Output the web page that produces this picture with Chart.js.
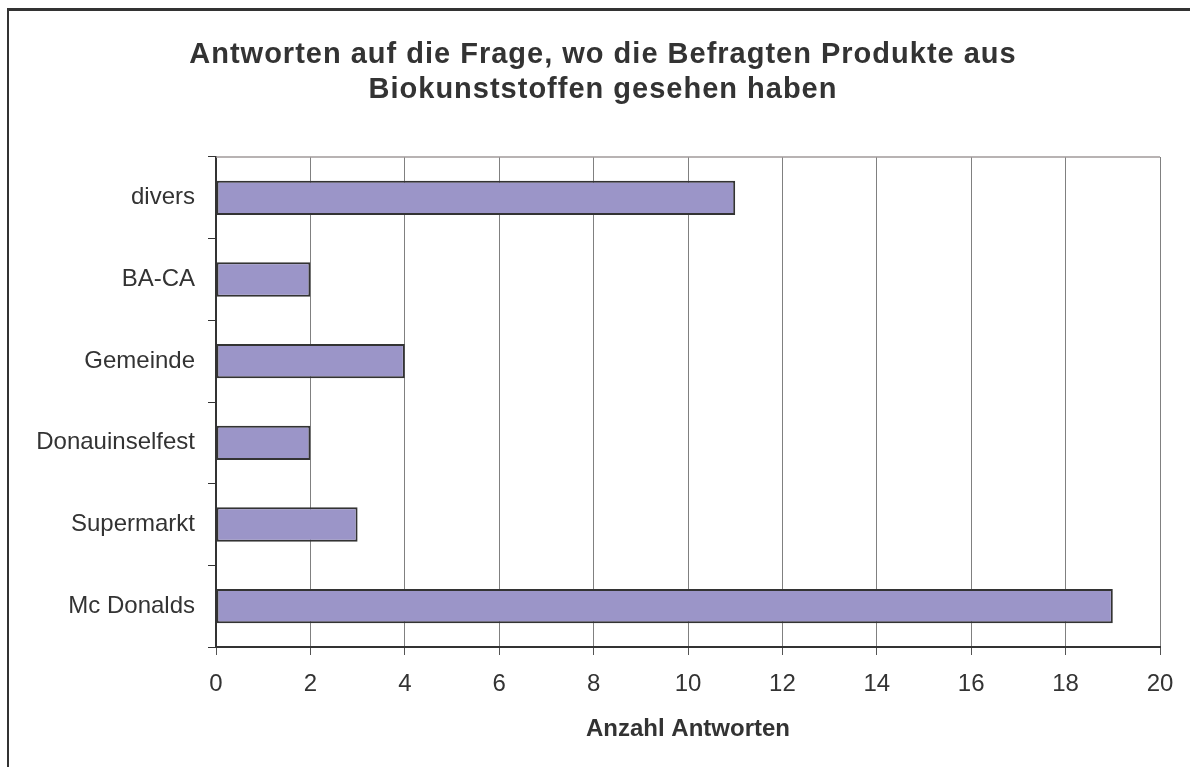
<!DOCTYPE html>
<html>
<head>
<meta charset="utf-8">
<script src="https://cdn.jsdelivr.net/npm/chart.js@4/dist/chart.umd.min.js"></script>
<style>
  html, body { margin: 0; padding: 0; background: #ffffff; }
  #wrap { position: relative; width: 1190px; height: 767px; overflow: hidden; }
  #frame { position: absolute; left: 7px; top: 8px; width: 1300px; height: 900px;
           border-left: 2px solid #333333; border-top: 3px solid #333333; pointer-events: none; }
  #title { position: absolute; left: 3px; top: 35.5px; width: 1200px; text-align: center;
           font-family: 'Liberation Sans', Arial, sans-serif; font-weight: bold; font-size: 29px;
           line-height: 35px; letter-spacing: 1px; color: #333333; margin: 0; }
  canvas { position: absolute; left: 0; top: 0; }
</style>
</head>
<body>
<div id="wrap">
  <canvas id="c" width="1190" height="767"></canvas>
  <div id="title"></div>
  <div id="frame"></div>
</div>
<script>
const categories = ['divers', 'BA-CA', 'Gemeinde', 'Donauinselfest', 'Supermarkt', 'Mc Donalds'];
const antworten = [11, 2, 4, 2, 3, 19];
const titleLines = ['Antworten auf die Frage, wo die Befragten Produkte aus', 'Biokunststoffen gesehen haben'];
const xAxisTitle = 'Anzahl Antworten';
const xMin = 0, xMax = 20, xStep = 2;

const FONT = "'Liberation Sans', Arial, sans-serif";
const TEXT = '#333333';

const titleEl = document.getElementById('title');
titleLines.forEach((line, i) => {
  if (i > 0) titleEl.appendChild(document.createElement('br'));
  titleEl.appendChild(document.createTextNode(line));
});

const frameTop = {
  id: 'frameTop',
  beforeDatasetsDraw(chart) {
    const a = chart.chartArea, ctx = chart.ctx;
    ctx.save();
    ctx.strokeStyle = '#a09a9a';
    ctx.lineWidth = 1.5;
    ctx.beginPath();
    ctx.moveTo(a.left, a.top);
    ctx.lineTo(a.right, a.top);
    ctx.stroke();
    ctx.restore();
  }
};

new Chart(document.getElementById('c'), {
  type: 'bar',
  data: {
    labels: categories,
    datasets: [{
      data: antworten,
      backgroundColor: '#9b95c8',
      borderColor: '#333333',
      borderWidth: 2,
      borderSkipped: false,
      categoryPercentage: 1.0,
      barPercentage: 0.42
    }]
  },
  options: {
    indexAxis: 'y',
    responsive: false,
    animation: false,
    devicePixelRatio: 1,
    layout: { padding: { left: 0, right: 30, top: 157, bottom: 0 } },
    plugins: {
      legend: { display: false },
      tooltip: { enabled: false },
      title: { display: false }
    },
    scales: {
      x: {
        type: 'linear',
        min: xMin, max: xMax,
        ticks: { stepSize: xStep, color: TEXT, font: { family: FONT, size: 24 }, padding: 15 },
        grid: { color: '#808080', lineWidth: 1, tickLength: 8, tickColor: '#555555' },
        border: { display: true, color: '#333333', width: 2 },
        title: { display: true, text: xAxisTitle, color: TEXT,
                 font: { family: FONT, size: 24, weight: 'bold' }, padding: { top: 0, bottom: 23 } },
        afterFit(scale) { scale.height = 120; }
      },
      y: {
        ticks: { color: TEXT, font: { family: FONT, size: 24 }, padding: 13 },
        grid: { drawOnChartArea: false, drawTicks: true, tickLength: 8, color: '#333333' },
        border: { display: true, color: '#333333', width: 2 },
        afterFit(scale) { scale.width = 216; }
      }
    }
  },
  plugins: [frameTop]
});
</script>
</body>
</html>
